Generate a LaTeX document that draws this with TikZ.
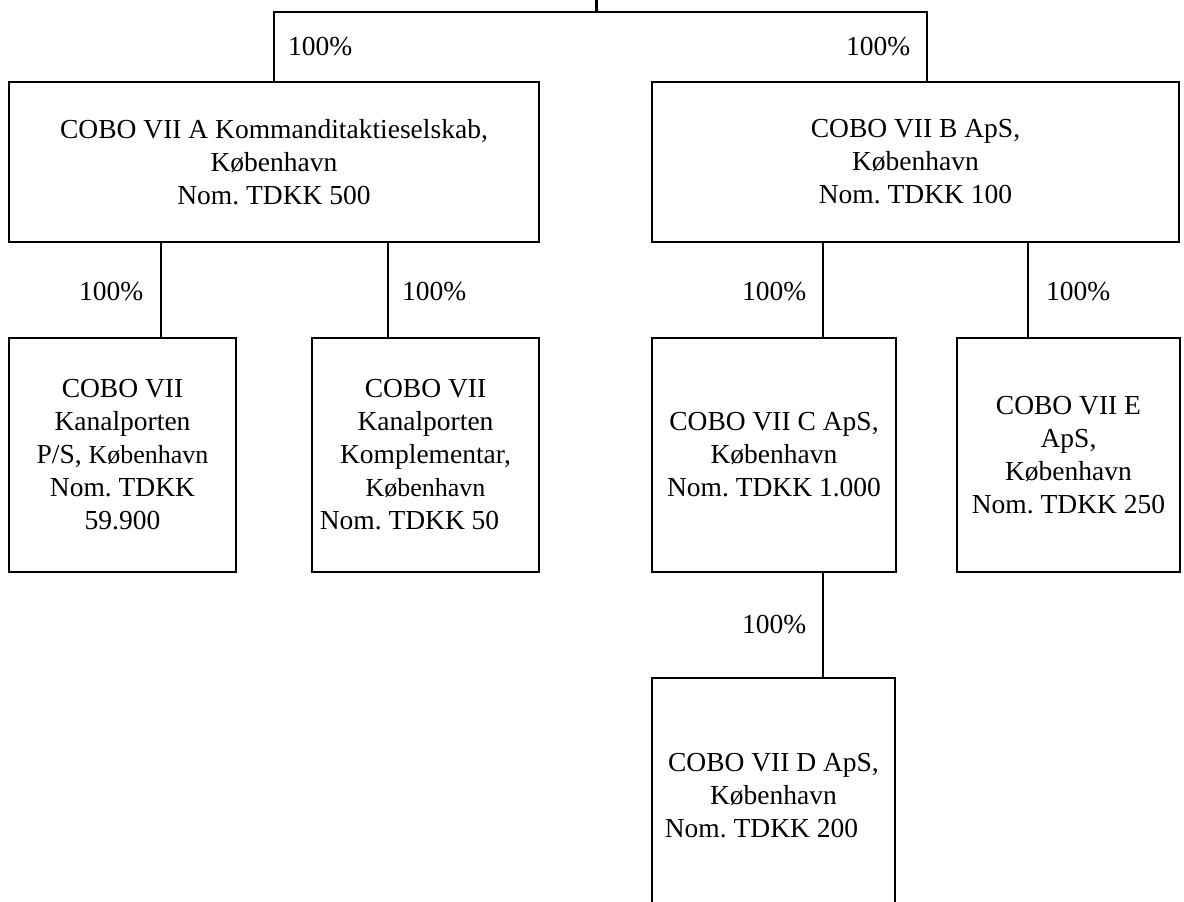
\documentclass[tikz,border=0pt]{standalone}
\usepackage{fontspec}
\setmainfont{Liberation Serif}
\frenchspacing
\newcommand{\mainsz}{\fontsize{27.5}{33}\selectfont}
\newcommand{\smallk}[2]{{\fontsize{#1}{33}\selectfont #2}}
\begin{document}
\begin{tikzpicture}[x=1pt,y=-1pt,
  box/.style={draw, line width=2.2pt, rectangle, inner sep=0pt, outer sep=0pt,
    align=center, font=\mainsz},
  openbox/.style={box, draw=none},
  pct/.style={inner sep=0pt, outer sep=0pt, anchor=west, font=\mainsz},
  conn/.style={line width=2.2pt}]
\useasboundingbox (0,0) rectangle (1184,902);
\clip (0,0) rectangle (1184,902);

% top level boxes
\node[box, minimum width=530pt, minimum height=160pt] (A) at (274,162)
  {COBO VII A Kommanditaktieselskab,\\ København\\ Nom. TDKK 500};
\node[box, minimum width=527pt, minimum height=160pt] (B) at (915.5,162)
  {COBO VII B ApS,\\ København\\ Nom. TDKK 100};

% second level boxes
\node[box, minimum width=227pt, minimum height=234pt] (PS) at (122.5,455)
  {COBO VII\\ Kanalporten\\ P/S, \smallk{26}{København}\\ Nom. TDKK\\ 59.900};
\node[box, minimum width=227pt, minimum height=234pt] (K) at (425.5,455)
  {COBO VII\\ Kanalporten\\ Komplementar,\\ \smallk{26}{København}\hspace*{18pt}\\ Nom. TDKK 50\hspace*{32pt}};
\node[box, minimum width=244pt, minimum height=234pt] (C) at (774,455)
  {COBO VII C ApS,\\ København\\ Nom. TDKK 1.000};
\node[box, minimum width=223pt, minimum height=234pt] (E) at (1068.5,455)
  {COBO VII E\\ ApS,\\ København\\ Nom. TDKK 250};

% third level box (runs past the bottom edge)
\node[openbox, minimum width=243pt, minimum height=236pt] (D) at (773.5,796)
  {COBO VII D ApS,\\ København\\ Nom. TDKK 200\hspace*{24pt}};
\draw[conn] (D.south west) -- (D.north west) -- (D.north east) -- (D.south east);

% connector coordinates
\coordinate (root) at (596.5,0);
\coordinate (barL) at (274,12);
\coordinate (barR) at (927,12);
\coordinate (a1) at (161,0);
\coordinate (a2) at (388,0);
\coordinate (b1) at (823,0);
\coordinate (b2) at (1028,0);

% connectors
\draw[conn] (root) -- (root |- barL);
\draw[conn] (A.north -| barL) -- (barL) -- (barR) -- (B.north -| barR);
\draw[conn] (A.south -| a1) -- (PS.north -| a1);
\draw[conn] (A.south -| a2) -- (K.north -| a2);
\draw[conn] (B.south -| b1) -- (C.north -| b1);
\draw[conn] (B.south -| b2) -- (E.north -| b2);
\draw[conn] (C.south -| b1) -- (D.north -| b1);

% percentage labels
\node[pct] (pA) at (288,47) {100\%};
\node[pct] (pB) at (846,47) {100\%};
\node[pct] (pPS) at (79,292) {100\%};
\node[pct] (pK) at (402,292) {100\%};
\node[pct] (pC) at (742,292) {100\%};
\node[pct] (pE) at (1046,292) {100\%};
\node[pct] (pD) at (742,625) {100\%};
\end{tikzpicture}
\end{document}
